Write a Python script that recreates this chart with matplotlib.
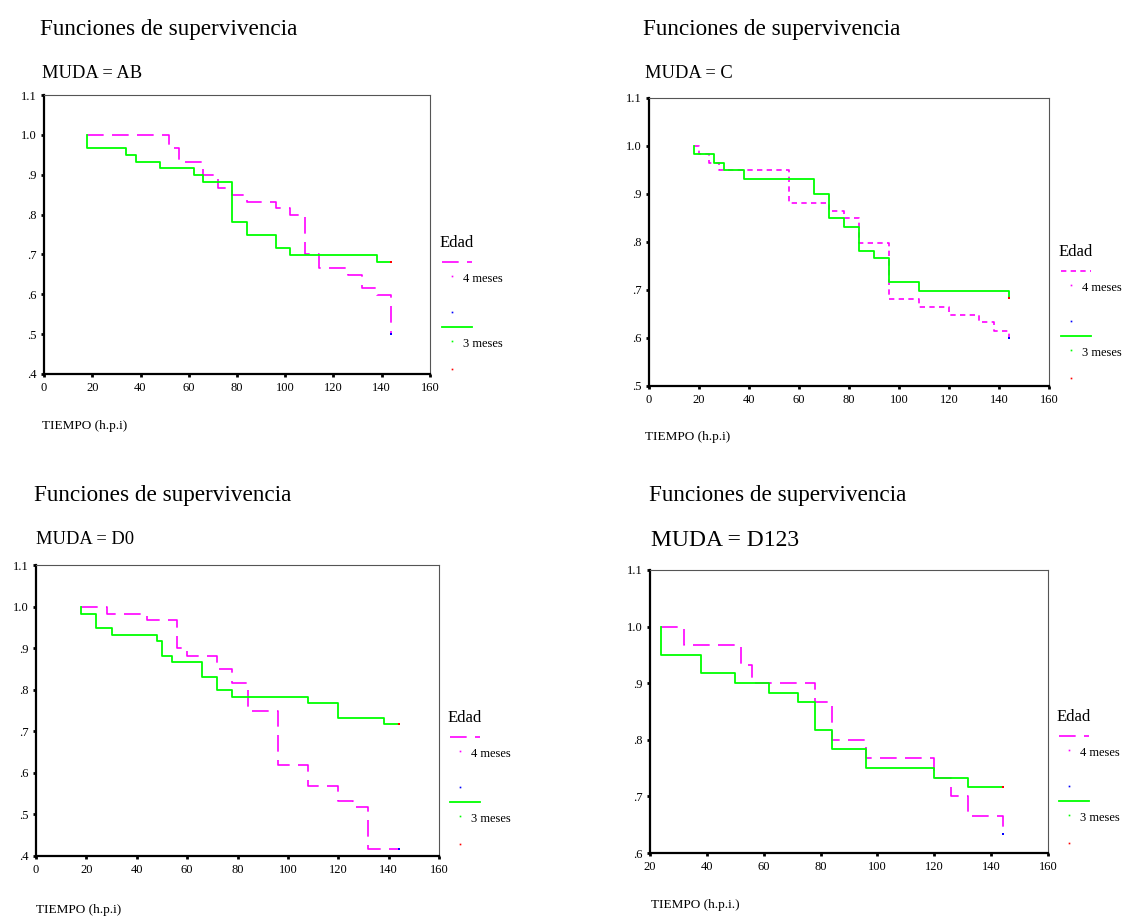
import matplotlib.pyplot as plt
from matplotlib.lines import Line2D

plt.rcParams['font.family'] = ['Liberation Serif', 'DejaVu Serif']

W, H = 1125, 918

# survival data (time in h.p.i, survival proportion)
ab_t4 = [18, 52, 56, 66, 72, 78, 84, 96, 102, 108, 114, 126, 132, 138, 144]
ab_s4 = [1.0, 0.966, 0.931, 0.899, 0.866, 0.849, 0.831, 0.816, 0.798, 0.70, 0.666, 0.649, 0.616, 0.599, 0.50]
ab_t3 = [18, 18, 34, 38, 48, 62, 66, 78, 84, 96, 102, 138, 144]
ab_s3 = [1.0, 0.966, 0.949, 0.931, 0.916, 0.899, 0.881, 0.781, 0.749, 0.717, 0.699, 0.681, 0.681]

c_t4 = [18, 20, 24, 28, 56, 72, 78, 84, 96, 108, 120, 132, 138, 144]
c_s4 = [1.0, 0.983, 0.965, 0.949, 0.881, 0.864, 0.849, 0.798, 0.682, 0.665, 0.647, 0.633, 0.615, 0.60]
c_t3 = [18, 18, 26, 30, 38, 66, 72, 78, 84, 90, 96, 108, 144]
c_s3 = [1.0, 0.983, 0.965, 0.949, 0.932, 0.899, 0.849, 0.831, 0.781, 0.766, 0.716, 0.698, 0.683]

d0_t4 = [18, 28, 44, 56, 60, 72, 78, 84, 96, 108, 120, 126, 132, 144]
d0_s4 = [1.0, 0.982, 0.967, 0.90, 0.882, 0.85, 0.817, 0.749, 0.618, 0.568, 0.533, 0.517, 0.418, 0.418]
d0_t3 = [18, 18, 24, 30, 48, 50, 54, 66, 72, 78, 108, 120, 138, 144]
d0_s3 = [1.0, 0.982, 0.949, 0.932, 0.917, 0.881, 0.867, 0.831, 0.799, 0.782, 0.767, 0.732, 0.717, 0.717]

d123_t4 = [24, 32, 52, 56, 78, 84, 96, 120, 126, 132, 144]
d123_s4 = [1.0, 0.967, 0.933, 0.90, 0.866, 0.80, 0.767, 0.733, 0.70, 0.666, 0.633]
d123_t3 = [24, 24, 38, 50, 62, 72, 78, 84, 96, 120, 132, 144]
d123_s3 = [1.0, 0.95, 0.918, 0.90, 0.883, 0.866, 0.817, 0.783, 0.75, 0.733, 0.716, 0.716]

groups = ['AB', 'C', 'D0', 'D123']
label4 = '4 meses'
label3 = '3 meses'

MAG = '#ff00ff'
GRN = '#00ff00'


def fx(px):
    return px / W


def fy(py):
    return 1 - py / H


fig = plt.figure(figsize=(W / 100, H / 100), dpi=100)

panels = [
    dict(g='AB', t4=ab_t4, s4=ab_s4, t3=ab_t3, s3=ab_s3, box=(44, 95, 430, 374),
         ylo=0.4, xlo=0, dash=(0, (10, 5)), tx=40, ty=35, my=78, ms=13.3,
         xl='TIEMPO (h.p.i)', xly=426, lx=440, ly=243),
    dict(g='C', t4=c_t4, s4=c_s4, t3=c_t3, s3=c_s3, box=(649, 98, 1049, 386),
         ylo=0.5, xlo=0, dash=(0, (3.2, 2.6)), tx=643, ty=35, my=78, ms=13.3,
         xl='TIEMPO (h.p.i)', xly=437, lx=1059, ly=252),
    dict(g='D0', t4=d0_t4, s4=d0_s4, t3=d0_t3, s3=d0_s3, box=(36, 565, 439, 856),
         ylo=0.4, xlo=0, dash=(0, (10, 5)), tx=34, ty=501, my=544, ms=13.3,
         xl='TIEMPO (h.p.i)', xly=910, lx=448, ly=718),
    dict(g='D123', t4=d123_t4, s4=d123_s4, t3=d123_t3, s3=d123_s3, box=(650, 570, 1048, 853),
         ylo=0.6, xlo=20, dash=(0, (10, 5)), tx=649, ty=501, my=546, ms=17,
         xl='TIEMPO (h.p.i.)', xly=905, lx=1057, ly=717),
]

for p in panels:
    l, t, r, b = p['box']
    ax = fig.add_axes([fx(l), fy(b), (r - l) / W, (b - t) / H])
    ax.step(p['t4'], p['s4'], where='post', color=MAG, lw=1.2, linestyle=p['dash'])
    ax.step(p['t3'], p['s3'], where='post', color=GRN, lw=1.3)
    ax.plot(p['t4'][-1], p['s4'][-1], 's', color='blue', ms=2, mew=0)
    ax.plot(p['t3'][-1], p['s3'][-1], 's', color='red', ms=2, mew=0)

    ax.set_xlim(p['xlo'], 160)
    ax.set_ylim(p['ylo'], 1.1)
    ax.set_xticks(range(p['xlo'], 161, 20))
    yt = [round(p['ylo'] + 0.1 * i, 1) for i in range(int(round((1.1 - p['ylo']) / 0.1)) + 1)]
    ax.set_yticks(yt)
    ax.set_yticklabels([f'{v:.1f}'.lstrip('0') for v in yt])
    ax.tick_params(direction='out', length=2.5, width=2, labelsize=9, pad=3, colors='black')

    for side in ['left', 'bottom']:
        ax.spines[side].set_linewidth(1.6)
        ax.spines[side].set_color('black')
    for side in ['top', 'right']:
        ax.spines[side].set_linewidth(0.8)
        ax.spines[side].set_color('#555555')

    fig.text(fx(p['tx']), fy(p['ty']), 'Funciones de supervivencia', fontsize=16.7,
             ha='left', va='baseline')
    fig.text(fx(p['tx'] + 2), fy(p['my']), 'MUDA = ' + p['g'], fontsize=p['ms'],
             ha='left', va='baseline')
    fig.text(fx(p['tx'] + 2), fy(p['xly']), p['xl'], fontsize=9.5, ha='left', va='center')

    # legend
    lx, ly = p['lx'], p['ly']
    fig.text(fx(lx), fy(ly), 'Edad', fontsize=12, ha='left', va='center')
    fig.add_artist(Line2D([fx(lx + 2), fx(lx + 32)], [fy(ly + 19), fy(ly + 19)],
                          color=MAG, lw=1.2, linestyle=p['dash']))
    fig.add_artist(Line2D([fx(lx + 12)], [fy(ly + 33)], marker='s', ms=1.2, mew=0, color=MAG))
    fig.text(fx(lx + 23), fy(ly + 36), label4, fontsize=9, ha='left', va='center')
    fig.add_artist(Line2D([fx(lx + 12)], [fy(ly + 69)], marker='s', ms=1.2, mew=0, color='blue'))
    fig.add_artist(Line2D([fx(lx + 2), fx(lx + 32)], [fy(ly + 84), fy(ly + 84)],
                          color=GRN, lw=1.3))
    fig.add_artist(Line2D([fx(lx + 12)], [fy(ly + 98)], marker='s', ms=1.2, mew=0, color=GRN))
    fig.text(fx(lx + 23), fy(ly + 101), label3, fontsize=9, ha='left', va='center')
    fig.add_artist(Line2D([fx(lx + 12)], [fy(ly + 126)], marker='s', ms=1.2, mew=0, color='red'))

fig.savefig('out.png', dpi=100)
